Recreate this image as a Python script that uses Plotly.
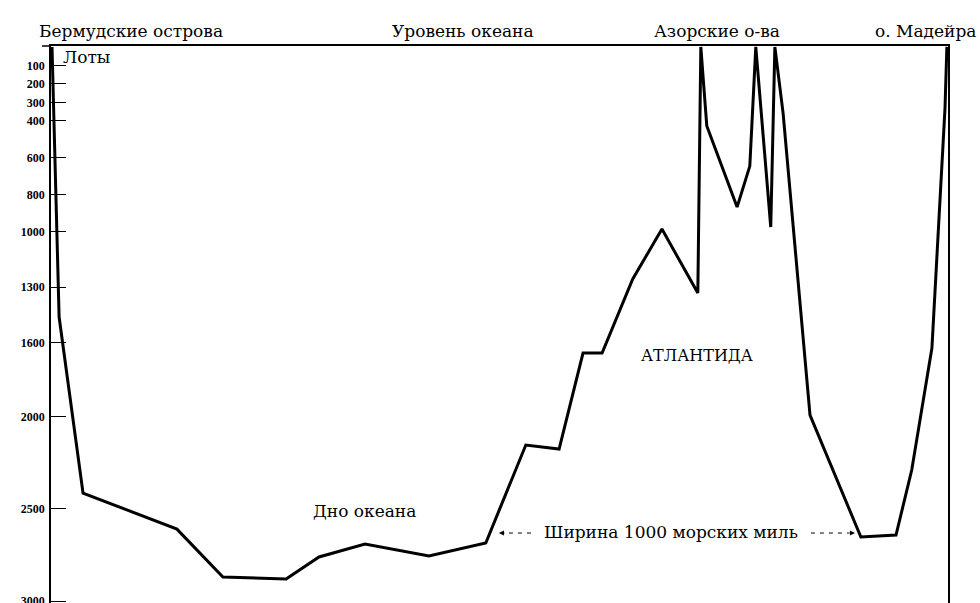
import plotly.graph_objects as go

# Profile of the Atlantic floor: distance from Bermuda (nautical miles) vs depth (fathoms)
distance_miles = [0, 19, 83, 334, 457, 626, 714, 837, 1008, 1160, 1267, 1356, 1420, 1471,
                  1553, 1631, 1727, 1735, 1751, 1832, 1866, 1882, 1922, 1933, 1955, 2027,
                  2163, 2257, 2299, 2353, 2388, 2393]
depth_fathoms = [0, 1462, 2415, 2610, 2869, 2880, 2761, 2691, 2756, 2685, 2155, 2177, 1657, 1657,
                 1256, 986, 1332, 0, 428, 867, 645, 0, 975, 0, 358, 1993,
                 2653, 2642, 2290, 1630, 331, 0]

depth_ticks = [100, 200, 300, 400, 600, 800, 1000, 1300, 1600, 2000, 2500, 3000]
depth_tick_labels = [str(v) for v in depth_ticks]

top_labels = ["Бермудские острова", "Уровень океана", "Азорские о-ва", "о. Мадейра"]

SERIF = "DejaVu Serif"

fig = go.Figure()
fig.add_trace(go.Scatter(
    x=distance_miles, y=depth_fathoms, mode="lines",
    line=dict(color="black", width=3), hoverinfo="skip", showlegend=False,
    cliponaxis=False,
))

X0, X1 = -2.7, 2396
Y0, Y1 = 3010, -5

fig.update_layout(
    width=980, height=603,
    margin=dict(l=51, r=32, t=46, b=0, pad=0, autoexpand=False),
    paper_bgcolor="white", plot_bgcolor="white",
    showlegend=False,
    xaxis=dict(range=[X0, X1], side="top", showline=True, linecolor="black", linewidth=1.5,
               showgrid=False, zeroline=False, showticklabels=False, ticks="", automargin=False),
    yaxis=dict(range=[Y0, Y1], showline=True, linecolor="black", linewidth=1.5, mirror=True,
               showgrid=False, zeroline=False, tickvals=depth_ticks, ticktext=depth_tick_labels,
               ticks="inside", ticklen=15, tickwidth=1, tickcolor="black",
               tickfont=dict(family="Liberation Serif", size=12, color="black", weight="bold"),
               ticklabelstandoff=2, ticklabeloverflow="allow", automargin=False),
)

PW = 980 - 51 - 32
PH = 603 - 46
px_x = lambda px: (px - 52) / 0.374
px_y = lambda py: (py - 46.9) / 0.18474
paper_x = lambda px: (px - 51) / PW
paper_y = lambda py: 1 - (py - 46) / PH

ann = []
def txt(text, px, py, size, xanchor="center"):
    ann.append(dict(text=text, x=paper_x(px), y=paper_y(py), xref="paper", yref="paper",
                    xanchor=xanchor, yanchor="middle", showarrow=False,
                    font=dict(family=SERIF, size=size, color="black")))

txt(top_labels[0], 37, 31, 17, xanchor="left")
txt(top_labels[1], 463, 31, 17)
txt(top_labels[2], 717, 31, 17)
txt(top_labels[3], 978, 31, 17, xanchor="right")
txt("Лоты", 61, 57, 17, xanchor="left")
txt("АТЛАНТИДА", 697, 355, 16)
txt("Дно океана", 364, 511, 17)
txt("Ширина 1000 морских миль", 671, 532, 17)

# dashed arrows delimiting the 1000-mile width
arrow_y = px_y(533)
for tail, tip in [(531, 499), (811, 855)]:
    fig.add_shape(type="line", x0=px_x(tail), x1=px_x(tip + (6 if tip < tail else -6)),
                  y0=arrow_y, y1=arrow_y, line=dict(color="black", width=1, dash="4px,5px"))
    ann.append(dict(x=px_x(tip), y=arrow_y, xref="x", yref="y", text="", showarrow=True,
                    ax=(7 if tip < tail else -7), ay=0, arrowhead=2, arrowsize=1,
                    arrowwidth=1, arrowcolor="black"))

fig.update_layout(annotations=ann)

fig.add_shape(type="line", xref="paper", yref="paper", x0=paper_x(42), x1=0, y0=1, y1=1,
              line=dict(color="black", width=1.5))

fig.write_html("out.html", config={"displayModeBar": False},
               post_script="document.body.style.margin='0';document.body.style.overflow='hidden';")
